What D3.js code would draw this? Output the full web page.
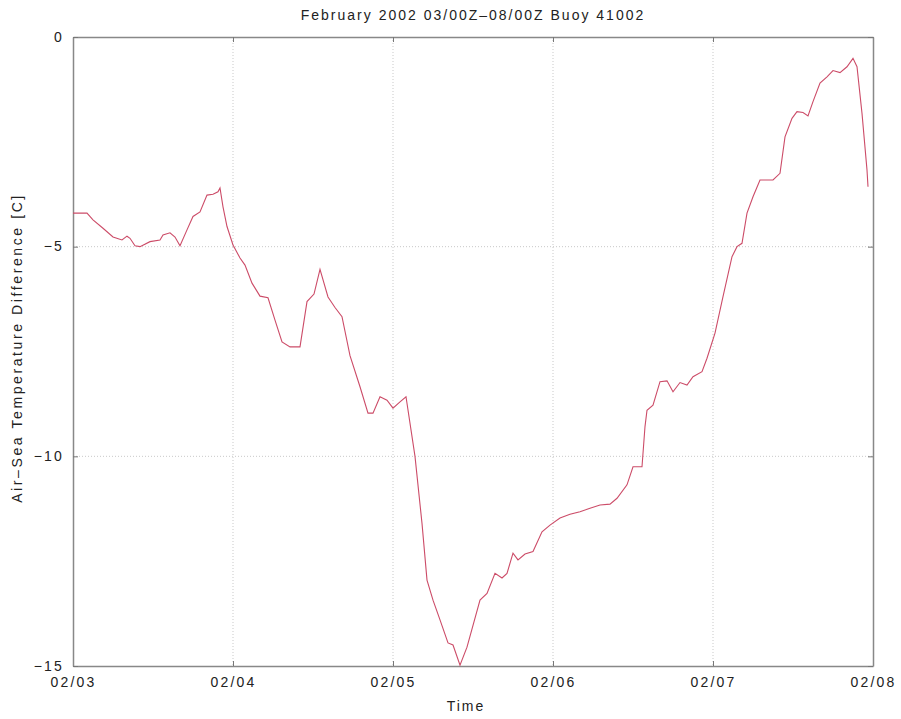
<!DOCTYPE html>
<html><head><meta charset="utf-8">
<script src="https://cdn.jsdelivr.net/npm/d3@7"></script>
<style>body{margin:0;background:#fff}svg text{font-family:"Liberation Sans",Arial,sans-serif;fill:#222}</style>
</head><body><svg id="c" width="901" height="719"></svg>
<script>
const title = "February 2002 03/00Z\u201308/00Z Buoy 41002";
const yLabel = "Air\u2013Sea Temperature Difference [C]";
const xLabel = "Time";
const xTickLabels = ["02/03","02/04","02/05","02/06","02/07","02/08"];
const yTicks = [0,-5,-10,-15];
// hours after 2002-02-03 00Z
const hours = [0,2.1,3.0,4.5,6.0,7.35,8.1,8.55,9.3,10.05,11.55,13.05,13.5,14.55,15.3,16.05,17.1,18.0,19.05,20.1,21.0,21.75,22.05,22.5,23.1,24.0,25.05,25.8,26.85,28.05,29.25,30.3,31.35,32.55,34.05,35.1,36.15,37.05,38.25,39.3,40.35,41.55,43.05,44.25,45.0,46.05,47.1,48.0,49.05,49.95,51.3,52.35,53.1,54.0,55.05,56.25,57.0,58.05,59.1,61.05,62.1,63.3,64.35,65.1,66.0,66.75,67.8,69.0,70.35,71.55,73.05,74.55,76.05,77.55,79.05,80.55,81.6,83.1,84.0,85.35,85.8,86.1,87.0,88.05,89.1,90.0,91.05,92.1,93.0,94.35,95.1,96.3,97.5,98.85,99.6,100.35,101.1,102.0,103.05,105.0,106.05,106.8,107.85,108.6,109.5,110.25,111.0,112.05,113.1,114.0,115.05,116.1,117.0,117.6,118.35,119.1,119.25];
const values = [-4.20,-4.20,-4.36,-4.56,-4.77,-4.84,-4.75,-4.80,-4.98,-5.00,-4.88,-4.84,-4.72,-4.67,-4.77,-4.98,-4.60,-4.28,-4.17,-3.77,-3.75,-3.69,-3.60,-4.05,-4.52,-4.96,-5.27,-5.44,-5.87,-6.18,-6.22,-6.75,-7.27,-7.39,-7.39,-6.31,-6.13,-5.54,-6.20,-6.45,-6.67,-7.60,-8.34,-8.97,-8.97,-8.58,-8.66,-8.85,-8.70,-8.58,-10.0,-11.6,-12.95,-13.43,-13.90,-14.45,-14.50,-14.98,-14.55,-13.43,-13.27,-12.79,-12.90,-12.79,-12.31,-12.47,-12.33,-12.27,-11.80,-11.64,-11.47,-11.38,-11.32,-11.24,-11.16,-11.14,-11.00,-10.68,-10.25,-10.25,-9.29,-8.90,-8.78,-8.22,-8.20,-8.46,-8.24,-8.30,-8.10,-7.98,-7.66,-7.06,-6.19,-5.24,-5.00,-4.92,-4.20,-3.81,-3.41,-3.41,-3.25,-2.38,-1.94,-1.78,-1.80,-1.88,-1.54,-1.10,-0.95,-0.80,-0.85,-0.71,-0.51,-0.71,-1.82,-3.17,-3.57];

const t0 = Date.UTC(2002,1,3);
const toDate = h => new Date(t0 + h*3600e3);
const data = hours.map((h,i)=>({t:toDate(h), v:values[i]}));
const svg = d3.select("#c");
const L=73,R=873,T=37,B=666;
const x = d3.scaleUtc().domain([toDate(0),toDate(120)]).range([L,R]);
const y = d3.scaleLinear().domain([-15,0]).range([B,T]);
const xTickVals = xTickLabels.map((s,i)=>toDate(24*i));

// grid
const g = svg.append("g");
g.selectAll(".gx").data(xTickVals.slice(1,-1)).join("line")
 .attr("x1",d=>x(d)).attr("x2",d=>x(d)).attr("y1",T).attr("y2",B)
 .attr("stroke","#bbb").attr("stroke-width",0.8).attr("stroke-dasharray","1,2");
g.selectAll(".gy").data(yTicks.slice(1,-1)).join("line")
 .attr("x1",L).attr("x2",R).attr("y1",d=>y(d)).attr("y2",d=>y(d))
 .attr("stroke","#bbb").attr("stroke-width",0.8).attr("stroke-dasharray","1,2");

// axes
const ax = d3.axisBottom(x).tickValues(xTickVals).tickFormat((d,i)=>xTickLabels[i]).tickSizeInner(-5).tickSizeOuter(0).tickPadding(14);
const axT = d3.axisTop(x).tickValues(xTickVals).tickFormat("").tickSizeInner(-5).tickSizeOuter(0);
const ay = d3.axisLeft(y).tickValues(yTicks).tickFormat(d=>d===0?"0":"\u2212"+Math.abs(d)).tickSizeInner(-5).tickSizeOuter(0).tickPadding(9);
const ayR = d3.axisRight(y).tickValues(yTicks).tickFormat("").tickSizeInner(-5).tickSizeOuter(0);
function style(sel){sel.selectAll("path,line").attr("stroke","#777");sel.selectAll("text").attr("font-size",14).attr("letter-spacing","2.2px").attr("fill","#222");}
svg.append("g").attr("transform",`translate(0,${B})`).call(ax).call(style).selectAll("text").attr("dy","0.5em");
svg.append("g").attr("transform",`translate(0,${T})`).call(axT).call(style);
svg.append("g").attr("transform",`translate(${L},0)`).call(ay).call(style).selectAll("text").attr("dy","0.3em");
svg.append("g").attr("transform",`translate(${R},0)`).call(ayR).call(style);
svg.selectAll(".domain").attr("stroke","#888").attr("stroke-width",1.5);

// line
svg.append("path").datum(data)
 .attr("d",d3.line().x(d=>x(d.t)).y(d=>y(d.v)))
 .attr("fill","none").attr("stroke","#cc4c68").attr("stroke-width",1.1);

// texts
svg.append("text").attr("x",473).attr("y",20).attr("text-anchor","middle").attr("font-size",14).attr("letter-spacing","2px").text(title);
svg.append("text").attr("x",466).attr("y",711).attr("text-anchor","middle").attr("font-size",14).attr("letter-spacing","2px").text(xLabel);
svg.append("text").attr("transform","translate(22,348) rotate(-90)").attr("text-anchor","middle").attr("font-size",14).attr("letter-spacing","2.6px").text(yLabel);
</script></body></html>
